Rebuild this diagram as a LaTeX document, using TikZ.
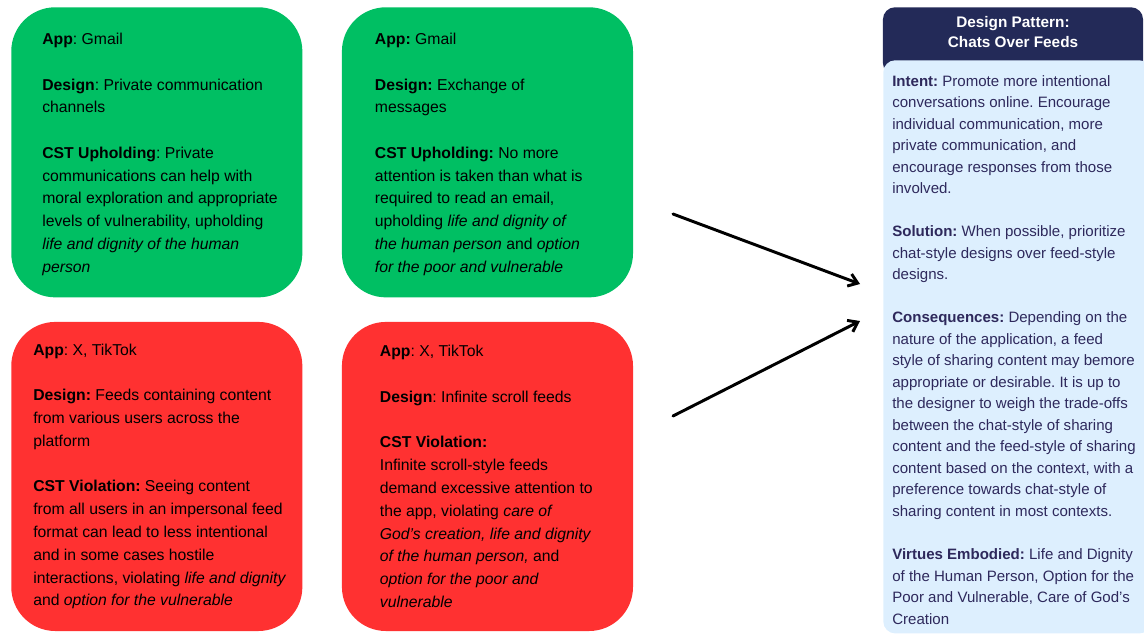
\documentclass[tikz,border=0pt]{standalone}
\usepackage{fontspec}
\setmainfont{Liberation Sans}
\usetikzlibrary{positioning,arrows.meta}
\frenchspacing

\definecolor{upgreen}{HTML}{00BF63}
\definecolor{violred}{HTML}{FF3131}
\definecolor{patternnavy}{HTML}{232A58}
\definecolor{patternblue}{HTML}{DDEFFE}
\definecolor{patterninkc}{HTML}{2E295C}

\begin{document}
\begin{tikzpicture}[x=0.025cm, y=-0.025cm,
  card/.style={rectangle, fill=#1, rounded corners=1.1cm, minimum width=7.275cm,
               inner sep=0pt},
  cardtext/.style={align=left, inner sep=0pt, text=black,
                   font=\fontsize{11.2pt}{16.2pt}\selectfont},
  patternhead/.style={rectangle, fill=patternnavy, rounded corners=0.3cm, text=white,
                      align=center, minimum width=6.5cm, minimum height=1.7cm,
                      text depth=0.455cm, font=\bfseries\fontsize{10.9pt}{14.2pt}\selectfont},
  patternpanel/.style={rectangle, fill=patternblue, rounded corners=0.3cm,
                       minimum width=6.7cm, minimum height=14.325cm},
  patterntext/.style={align=left, inner sep=0pt, text=patterninkc,
                      font=\fontsize{10.7pt}{15.3pt}\selectfont},
  flowarrow/.style={draw, line width=2.1pt, line cap=round,
                    -{Straight Barb[length=2.2mm, width=3.2mm]}}
]
\useasboundingbox (0,0) rectangle (1144,633);

% ==========================================================
% Example cards
% ==========================================================
\node[card=upgreen, minimum height=7.25cm, anchor=north west] (gmailchat) at (11,7) {};
\node[card=upgreen, minimum height=7.25cm, right=0.975cm of gmailchat] (gmailmsg) {};
\node[card=violred, minimum height=7.725cm, below=0.6cm of gmailchat] (xfeed) {};
\node[card=violred, minimum height=7.725cm, right=0.975cm of xfeed] (xscroll) {};

\node[cardtext, right=0.775cm of gmailchat.west, yshift=-0.05cm] (gmailchattext) {
\textbf{App}: Gmail\\[\baselineskip]
\textbf{Design}: Private communication\\
channels\\[\baselineskip]
\textbf{CST Upholding}: Private\\
communications can help with\\
moral exploration and appropriate\\
levels of vulnerability, upholding\\
\textit{life and dignity of the human}\\
\textit{person}};

\node[cardtext, right=0.825cm of gmailmsg.west, yshift=-0.05cm] (gmailmsgtext) {
\textbf{App:} Gmail\\[\baselineskip]
\textbf{Design:} Exchange of\\
messages\\[\baselineskip]
\textbf{CST Upholding:} No more\\
attention is taken than what is\\
required to read an email,\\
upholding \textit{life and dignity of}\\
\textit{the human person} and \textit{option}\\
\textit{for the poor and vulnerable}};

\node[cardtext, right=0.55cm of xfeed.west] (xfeedtext) {
\textbf{App}: X, TikTok\\[\baselineskip]
\textbf{Design:} Feeds containing content\\
from various users across the\\
platform\\[\baselineskip]
\textbf{CST Violation:} Seeing content\\
from all users in an impersonal feed\\
format can lead to less intentional\\
and in some cases hostile\\
interactions, violating \textit{life and dignity}\\
and \textit{option for the vulnerable}};

\node[cardtext, right=0.95cm of xscroll.west] (xscrolltext) {
\textbf{App}: X, TikTok\\[\baselineskip]
\textbf{Design}: Infinite scroll feeds\\[\baselineskip]
\textbf{CST Violation:}\\
Infinite scroll-style feeds\\
demand excessive attention to\\
the app, violating \textit{care of}\\
\textit{God’s creation, life and dignity}\\
\textit{of the human person,} and\\
\textit{option for the poor and}\\
\textit{vulnerable}};

% ==========================================================
% Design pattern panel
% ==========================================================
\node[patternhead, anchor=north] (patternhead) at (1013,7) {Design Pattern:\\Chats Over Feeds};
\node[patternpanel, anchor=north west] (patternpanel) at (883,60) {};

\node[patterntext, anchor=north west] (patterntext) at (892,75) {
\textbf{Intent:} Promote more intentional\\
conversations online. Encourage\\
individual communication, more\\
private communication, and\\
encourage responses from those\\
involved.\\[\baselineskip]
\textbf{Solution:} When possible, prioritize\\
chat-style designs over feed-style\\
designs.\\[\baselineskip]
\textbf{Consequences:} Depending on the\\
nature of the application, a feed\\
style of sharing content may bemore\\
appropriate or desirable. It is up to\\
the designer to weigh the trade-offs\\
between the chat-style of sharing\\
content and the feed-style of sharing\\
content based on the context, with a\\
preference towards chat-style of\\
sharing content in most contexts.\\[\baselineskip]
\textbf{Virtues Embodied:} Life and Dignity\\
of the Human Person, Option for the\\
Poor and Vulnerable, Care of God’s\\
Creation};

% ==========================================================
% Arrows
% ==========================================================
\coordinate (chatstart) at (673,214);
\coordinate (feedstart) at (673,416);
\coordinate (chatin) at (860,284);
\coordinate (feedin) at (860,321);

\draw[flowarrow] (chatstart) -- (chatin);
\draw[flowarrow] (feedstart) -- (feedin);

\end{tikzpicture}
\end{document}
